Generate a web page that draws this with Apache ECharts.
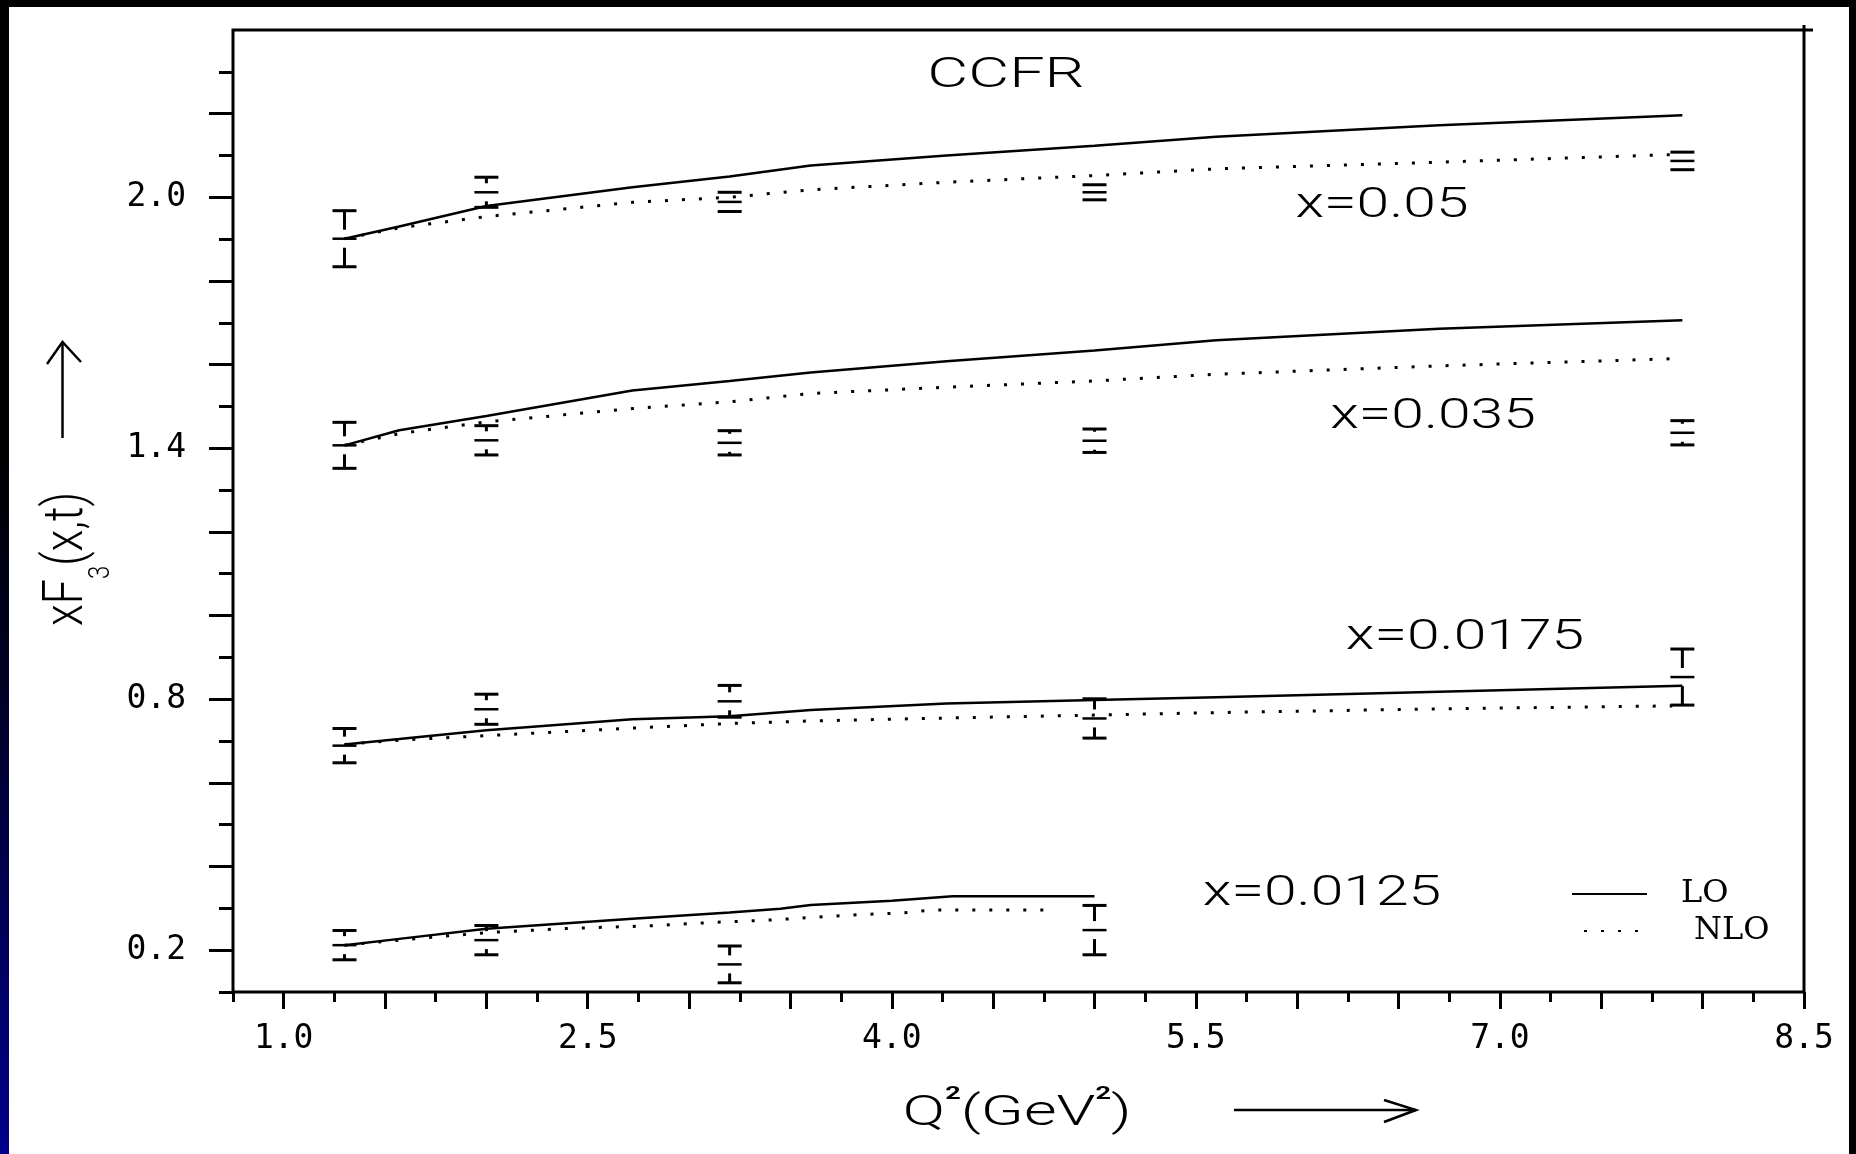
<!DOCTYPE html>
<html>
<head>
<meta charset="utf-8">
<script src="https://cdn.jsdelivr.net/npm/echarts@6/dist/echarts.min.js"></script>
<style>
    html, body { margin: 0; padding: 0; width: 1856px; height: 1154px; overflow: hidden; background: #000; }
    #sheet { position: absolute; left: 9px; top: 7px; width: 1840px; height: 1147px; background: #fff; }
    #edge { position: absolute; left: 0; top: 0; width: 9px; height: 1154px;
            background: linear-gradient(to bottom, #000 0%, #000 38%, #00002a 62%, #00008c 100%); }
    #main { position: absolute; left: 0; top: 0; width: 1856px; height: 1154px; }
</style>
</head>
<body>
<div id="sheet"></div>
<div id="edge"></div>
<div id="main"></div>

<script type="text/javascript">
    // Q^2 bins of the CCFR points
    var q2Bins = [1.3, 2.0, 3.2, 5.0, 7.9];

    // data points (central value, half error) for each x
    var pts005 = [1.901, 2.012, 1.989, 2.012, 2.087];
    var err005 = [0.067, 0.036, 0.023, 0.018, 0.021];
    var pts0035 = [1.407, 1.419, 1.413, 1.418, 1.437];
    var err0035 = [0.055, 0.035, 0.029, 0.028, 0.029];
    var pts00175 = [0.689, 0.776, 0.795, 0.754, 0.853];
    var err00175 = [0.041, 0.036, 0.038, 0.047, 0.067];
    var pts00125 = [0.212, 0.224, 0.166, 0.248];
    var err00125 = [0.035, 0.035, 0.044, 0.059];

    // LO curves
    var loQ2 = [1.3, 1.57, 2.0, 2.72, 3.2, 3.6, 4.27, 5.0, 5.6, 6.7, 7.9];
    var lo005 = [1.901, 1.930, 1.979, 2.024, 2.050, 2.076, 2.100, 2.123, 2.145, 2.172, 2.196];
    var lo0035 = [1.407, 1.443, 1.477, 1.538, 1.561, 1.581, 1.608, 1.634, 1.658, 1.686, 1.706];
    var lo00175 = [0.692, 0.705, 0.726, 0.752, 0.759, 0.774, 0.790, 0.798, 0.805, 0.818, 0.832];
    var loQ2b = [1.3, 1.57, 2.0, 2.72, 3.2, 3.45, 3.6, 4.0, 4.3, 5.0];
    var lo00125 = [0.212, 0.227, 0.251, 0.275, 0.290, 0.299, 0.308, 0.318, 0.329, 0.329];

    // NLO curves
    var nloQ2 = [1.3, 1.57, 2.0, 2.72, 3.2, 3.6, 4.27, 5.0, 5.6, 6.7, 7.85];
    var nlo005 = [1.901, 1.927, 1.954, 1.988, 2.000, 2.018, 2.036, 2.052, 2.068, 2.084, 2.102];
    var nlo0035 = [1.407, 1.435, 1.463, 1.495, 1.511, 1.531, 1.546, 1.561, 1.577, 1.597, 1.614];
    var nlo00175 = [0.692, 0.702, 0.713, 0.731, 0.742, 0.748, 0.755, 0.762, 0.768, 0.777, 0.784];
    var nloQ2b = [1.3, 1.62, 2.0, 2.4, 2.8, 3.1, 3.4, 3.6, 3.8, 4.05, 4.2, 4.8];
    var nlo00125 = [0.212, 0.226, 0.242, 0.252, 0.258, 0.266, 0.272, 0.278, 0.284, 0.289, 0.296, 0.296];

    var xTickLabels = ['1.0', '2.5', '4.0', '5.5', '7.0', '8.5'];
    var yTickLabels = ['0.2', '0.8', '1.4', '2.0'];
    var curveLabels = ['x=0.05', 'x=0.035', 'x=0.0175', 'x=0.0125'];

    var blk = '#000';
    var txtFont = 'Roboto';
    var numFont = 'DejaVu Sans Mono';

    function pairs(xs, ys) {
        return xs.map(function (x, i) { return [x, ys[i]]; });
    }

    function lineSeries(name, xs, ys) {
        return {
            type: 'line', name: name, xAxisIndex: 0, yAxisIndex: 0,
            data: pairs(xs, ys), symbol: 'none', silent: true, z: 3,
            itemStyle: { color: blk },
            lineStyle: name === 'LO'
                ? { color: blk, width: 2.5 }
                : { color: blk, width: 3, type: [3, 14], cap: 'butt' }
        };
    }

    function errorSeries(ys, es) {
        return {
            type: 'custom', xAxisIndex: 0, yAxisIndex: 0, silent: true, z: 4,
            data: q2Bins.slice(0, ys.length).map(function (q, i) { return [q, ys[i], es[i]]; }),
            encode: { x: 0, y: 1 },
            renderItem: function (params, api) {
                var q = api.value(0), v = api.value(1), e = api.value(2);
                var c = api.coord([q, v]);
                var t = api.coord([q, v + e]);
                var b = api.coord([q, v - e]);
                var hw = 12, gap = 9;
                var st = { stroke: blk, lineWidth: 3 };
                var kids = [
                    { type: 'line', shape: { x1: c[0] - hw, y1: t[1], x2: c[0] + hw, y2: t[1] }, style: st },
                    { type: 'line', shape: { x1: c[0] - hw, y1: b[1], x2: c[0] + hw, y2: b[1] }, style: st },
                    { type: 'line', shape: { x1: c[0] - hw, y1: c[1], x2: c[0] + hw, y2: c[1] }, style: { stroke: blk, lineWidth: 2.5 } }
                ];
                if (c[1] - gap - t[1] > 2) {
                    kids.push({ type: 'line', shape: { x1: c[0], y1: t[1], x2: c[0], y2: c[1] - gap }, style: st });
                }
                if (b[1] - c[1] - gap > 2) {
                    kids.push({ type: 'line', shape: { x1: c[0], y1: c[1] + gap, x2: c[0], y2: b[1] }, style: st });
                }
                return { type: 'group', children: kids };
            }
        };
    }

    function annot(text, x, y, sx) {
        return {
            type: 'text', x: x, y: y, scaleX: sx || 1.4, silent: true,
            style: { text: text, fontFamily: txtFont, fontWeight: 300, fontSize: 42, fill: blk, align: 'center', verticalAlign: 'middle' }
        };
    }

    var chart = echarts.init(document.getElementById('main'));

    var option = {
        backgroundColor: 'transparent',
        animation: false,
        grid: [
            { left: 233, top: 30, width: 1571, height: 962, show: true, borderColor: blk, borderWidth: 3, backgroundColor: 'transparent' },
            { left: 233, top: 71.83, width: 1571, height: 920.17 },
            { left: 233, top: 113.65, width: 1571, height: 836.52 },
            { left: 283.68, top: 30, width: 1520.32, height: 962 }
        ],
        xAxis: [
            { type: 'value', gridIndex: 0, min: 0.75, max: 8.5, interval: 0.25,
              axisLine: { show: false }, splitLine: { show: false }, axisLabel: { show: false },
              axisTick: { show: true, length: 10, lineStyle: { color: blk, width: 3 } } },
            { type: 'value', gridIndex: 1, show: false },
            { type: 'value', gridIndex: 2, show: false },
            { type: 'value', gridIndex: 3, min: 1.0, max: 8.5, interval: 0.5,
              axisLine: { show: false }, splitLine: { show: false },
              axisTick: { show: true, length: 17, lineStyle: { color: blk, width: 3 } },
              axisLabel: { show: true, margin: 31, color: blk, fontFamily: numFont, fontSize: 33,
                           showMinLabel: true, showMaxLabel: true,
                           formatter: function (v) { var s = v.toFixed(1); return xTickLabels.indexOf(s) >= 0 ? s : ''; } } }
        ],
        yAxis: [
            { type: 'value', gridIndex: 0, min: 0.1, max: 2.4, show: false },
            { type: 'value', gridIndex: 1, min: 0.1, max: 2.3, interval: 0.1,
              axisLine: { show: false }, splitLine: { show: false }, axisLabel: { show: false },
              axisTick: { show: true, length: 14, lineStyle: { color: blk, width: 3 } } },
            { type: 'value', gridIndex: 2, min: 0.2, max: 2.2, interval: 0.2,
              axisLine: { show: false }, splitLine: { show: false },
              axisTick: { show: true, length: 24, lineStyle: { color: blk, width: 3 } },
              axisLabel: { show: true, margin: 47, color: blk, fontFamily: numFont, fontSize: 33,
                           showMinLabel: true, showMaxLabel: true,
                           formatter: function (v) { var s = v.toFixed(1); return yTickLabels.indexOf(s) >= 0 ? s : ''; } } },
            { type: 'value', gridIndex: 3, show: false }
        ],
        legend: [
            { data: ['LO'], left: 1571, top: 878, padding: 0, itemGap: 0, itemWidth: 75, itemHeight: 20,
              selectedMode: false, itemStyle: { opacity: 0 },
              textStyle: { color: blk, fontFamily: 'DejaVu Serif', fontSize: 32, padding: [0, 0, 20, 29] } },
            { data: ['NLO'], left: 1583, top: 915, padding: 0, itemGap: 0, itemWidth: 60, itemHeight: 20,
              selectedMode: false, itemStyle: { opacity: 0 },
              textStyle: { color: blk, fontFamily: 'DejaVu Serif', fontSize: 32, padding: [0, 0, 6, 45] } }
        ],
        graphic: [
            annot('CCFR', 1006, 76, 1.5),
            annot(curveLabels[0], 1382, 206),
            annot(curveLabels[1], 1433, 417),
            annot(curveLabels[2], 1465, 638),
            annot(curveLabels[3], 1322, 894),
            {
                type: 'text', x: 1017, y: 1106, scaleX: 1.5, silent: true,
                style: {
                    text: '{a|Q}{s|2}{a|(GeV}{s|2}{a|)}', align: 'center', verticalAlign: 'middle', fill: blk,
                    rich: {
                        a: { fontFamily: txtFont, fontWeight: 300, fontSize: 42, lineHeight: 42, padding: [8, 0, 0, 0], verticalAlign: 'top', fill: blk },
                        s: { fontFamily: txtFont, fontWeight: 'bold', fontSize: 18, lineHeight: 18, verticalAlign: 'top', fill: blk }
                    }
                }
            },
            {
                type: 'text', x: 68, y: 559, rotation: Math.PI / 2, scaleX: 0.8, silent: true,
                style: {
                    text: '{a|xF}{b|3}{a|(x,t)}', align: 'center', verticalAlign: 'middle', fill: blk,
                    rich: {
                        a: { fontFamily: txtFont, fontWeight: 300, fontSize: 56, lineHeight: 56, verticalAlign: 'top', fill: blk },
                        b: { fontFamily: txtFont, fontWeight: 300, fontSize: 30, lineHeight: 30, padding: [46, 0, 0, 0], verticalAlign: 'top', fill: blk }
                    }
                }
            },
            // axis arrows
            { type: 'line', silent: true, shape: { x1: 62.5, y1: 438, x2: 62.5, y2: 342 }, style: { stroke: blk, lineWidth: 2.5 } },
            { type: 'polyline', silent: true, shape: { points: [[47, 364], [62.5, 342], [81, 362]] }, style: { stroke: blk, lineWidth: 2.5, fill: null } },
            { type: 'line', silent: true, shape: { x1: 1234, y1: 1110, x2: 1416, y2: 1110 }, style: { stroke: blk, lineWidth: 2.5 } },
            { type: 'polyline', silent: true, shape: { points: [[1384, 1100], [1416, 1110], [1384, 1122]] }, style: { stroke: blk, lineWidth: 2.5, fill: null } },
            // small overshoot of the frame at the top right corner
            { type: 'line', silent: true, shape: { x1: 1804, y1: 30, x2: 1813, y2: 30 }, style: { stroke: blk, lineWidth: 3 } },
            { type: 'line', silent: true, shape: { x1: 1804, y1: 25, x2: 1804, y2: 31 }, style: { stroke: blk, lineWidth: 3 } }
        ],
        series: [
            lineSeries('LO', loQ2, lo005),
            lineSeries('LO', loQ2, lo0035),
            lineSeries('LO', loQ2, lo00175),
            lineSeries('LO', loQ2b, lo00125),
            lineSeries('NLO', nloQ2, nlo005),
            lineSeries('NLO', nloQ2, nlo0035),
            lineSeries('NLO', nloQ2, nlo00175),
            lineSeries('NLO', nloQ2b, nlo00125),
            errorSeries(pts005, err005),
            errorSeries(pts0035, err0035),
            errorSeries(pts00175, err00175),
            errorSeries(pts00125, err00125)
        ]
    };

    chart.setOption(option);
</script>
</body>
</html>
